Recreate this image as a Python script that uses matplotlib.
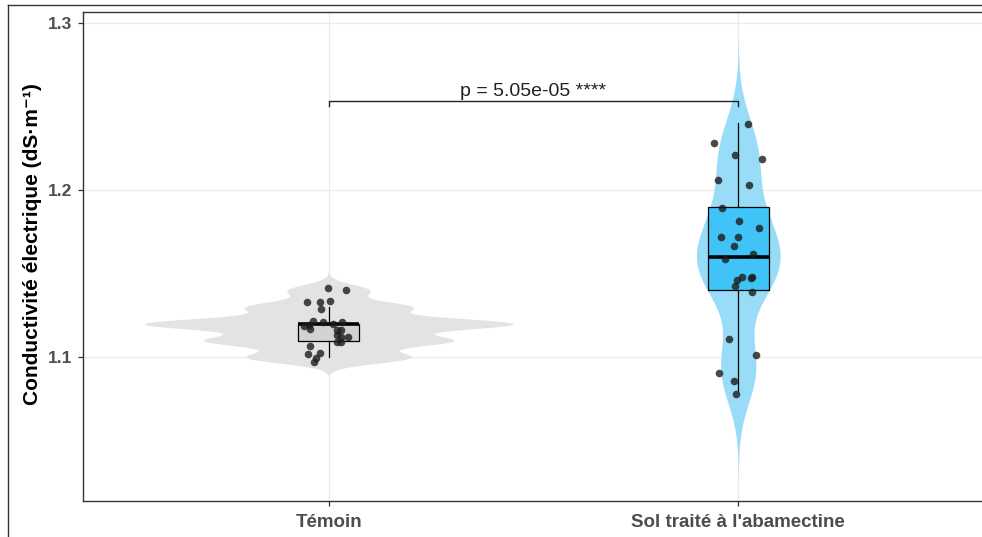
import numpy as np
import matplotlib as mpl
import matplotlib.pyplot as plt
from matplotlib.lines import Line2D
mpl.use('Agg')

plt.rcParams['font.family'] = ['Liberation Sans', 'DejaVu Sans']

groups = ['Témoin', "Sol traité à l'abamectine"]

# conductivity readings (dS/m) as placed by the jitter, with their horizontal jitter
temoin_ce = [1.1414, 1.1400, 1.1330, 1.1328, 1.1336, 1.1288, 1.1191, 1.1171, 1.1209, 1.1209,
             1.1185, 1.1161, 1.1161, 1.1215, 1.1200, 1.1121, 1.1135, 1.1123, 1.1093, 1.1093,
             1.1066, 1.1022, 1.1026, 1.0998, 1.0972]
temoin_dx = [-0.001, 0.043, -0.053, -0.022, 0.002, -0.019, -0.048, -0.046, -0.015, 0.033,
             -0.061, 0.019, 0.031, -0.039, 0.010, 0.047, 0.020, 0.029, 0.020, 0.029,
             -0.046, -0.051, -0.022, -0.030, -0.037]

abam_ce = [1.2393, 1.2282, 1.2210, 1.2186, 1.2061, 1.2027, 1.1894, 1.1812, 1.1774, 1.1718,
           1.1718, 1.1663, 1.1619, 1.1587, 1.1479, 1.1464, 1.1476, 1.1479, 1.1424, 1.1390,
           1.1107, 1.1012, 1.0909, 1.0861, 1.0781]
abam_dx = [0.023, -0.059, -0.008, 0.058, -0.050, 0.026, -0.039, 0.002, 0.051, -0.043,
           -0.001, -0.011, 0.037, -0.033, 0.009, -0.003, 0.032, 0.034, -0.008, 0.033,
           -0.022, 0.044, -0.046, -0.011, -0.005]

p_label = 'p = 5.05e-05 ****'

violin_cols = ['#E3E3E3', '#98DCF8']
box_cols = ['#D2D2D2', '#40C4F7']


def bw_nrd0(x):
    q1, q3 = np.percentile(x, [25, 75])
    s = min(np.std(x, ddof=1), (q3 - q1) / 1.34)
    return 0.9 * s * len(x) ** -0.2


def kde(x, bw, n=512):
    grid = np.linspace(x.min() - 3 * bw, x.max() + 3 * bw, n)
    d = np.exp(-0.5 * ((grid[:, None] - x[None, :]) / bw) ** 2).sum(axis=1)
    return grid, d / (len(x) * bw * np.sqrt(2 * np.pi))


# measurements were recorded to 0.01
data = [np.round(np.array(temoin_ce), 2), np.round(np.array(abam_ce), 2)]
dens = [kde(x, bw_nrd0(x)) for x in data]
dmax = max(d.max() for _, d in dens)

fig = plt.figure(figsize=(9.82, 5.37), dpi=100)
ax = fig.add_axes([83 / 982, 36 / 537, 901 / 982, 488.7 / 537])

pos = [1, 2]
for p, (grid, d), col in zip(pos, dens, violin_cols):
    half = 0.45 * d / dmax
    ax.fill_betweenx(grid, p - half, p + half, color=col, lw=0, zorder=2)

bp = ax.boxplot(data, positions=pos, widths=0.15, patch_artist=True, showfliers=False,
                showcaps=False, whis=1.5,
                boxprops=dict(edgecolor='black', linewidth=0.9),
                whiskerprops=dict(color='black', linewidth=0.9),
                medianprops=dict(color='black', linewidth=2.6, solid_capstyle='butt'),
                zorder=3)
for patch, col in zip(bp['boxes'], box_cols):
    patch.set_facecolor(col)

for p, vals, dx in zip(pos, [temoin_ce, abam_ce], [temoin_dx, abam_dx]):
    ax.scatter(p + np.array(dx), vals, s=30, color='#1c1c1c', alpha=0.8, lw=0, zorder=4)

# significance bracket
yb = 1.253
ax.plot([1, 1, 2, 2], [yb - 0.003, yb, yb, yb - 0.003], color='#222222', lw=1.0, zorder=5)
ax.text(1.5, yb + 0.0006, p_label, ha='center', va='bottom', fontsize=14, color='#222222')

ax.set_xlim(0.4, 2.6)
ax.set_ylim(1.0141, 1.3062)
ax.set_xticks(pos)
ax.set_xticklabels(groups)
ax.set_yticks([1.1, 1.2, 1.3])
ax.set_yticklabels(['1.1', '1.2', '1.3'])
ax.grid(True, color='#EBEBEB', lw=0.9, zorder=0)
ax.set_axisbelow(True)
for s in ax.spines.values():
    s.set_color('#333333')
    s.set_linewidth(1.0)
ax.tick_params(axis='both', colors='#333333', length=3.5, width=0.9)
ax.tick_params(axis='y', pad=4)
ax.tick_params(axis='x', pad=6)
for lab in ax.get_yticklabels():
    lab.set_fontweight('bold')
    lab.set_fontsize(12.5)
    lab.set_color('#4D4D4D')
for lab in ax.get_xticklabels():
    lab.set_fontweight('bold')
    lab.set_fontsize(13.5)
    lab.set_color('#4D4D4D')
ax.set_ylabel('Conductivité électrique (dS·m⁻¹)', fontsize=15, fontweight='bold', color='black')
ax.yaxis.set_label_coords(-0.046, 0.525)

# outer frame
fig.add_artist(Line2D([8 / 982, 8 / 982], [0, 1 - 4.7 / 537], transform=fig.transFigure,
                      color='#333333', lw=1.0))
fig.add_artist(Line2D([8 / 982, 1], [1 - 4.7 / 537, 1 - 4.7 / 537], transform=fig.transFigure,
                      color='#333333', lw=1.0))

fig.savefig('out.png', dpi=100)
